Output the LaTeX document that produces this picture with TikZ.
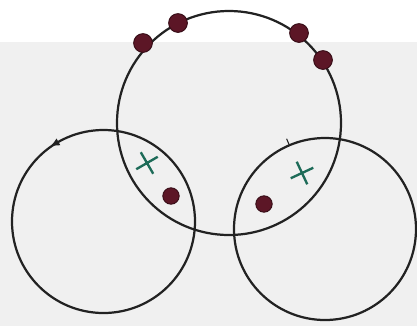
\documentclass[tikz,border=0pt]{standalone}
\usetikzlibrary{arrows.meta,shapes.misc,decorations.markings}
\definecolor{wine}{HTML}{5C1626}
\definecolor{pine}{HTML}{1D6B58}
\definecolor{paper}{HTML}{F0F0F0}
\definecolor{ink}{HTML}{222222}

\begin{document}
\begin{tikzpicture}[x=.03cm,y=-.03cm,ring/.style={draw=ink,line width=1.9pt},bead/.style={circle,fill=wine,draw=wine!60!black,line width=.8pt,inner sep=0pt,minimum size=#1},tally/.style={cross out,draw=pine,line width=2pt,inner sep=0pt,minimum size=13pt,rotate=#1}]
 \useasboundingbox (0,0) rectangle (417,326);
 \fill[paper] (0,42) rectangle (417,326);
 \coordinate (top) at (229,123);
 \coordinate (left) at (103.5,221.5);
 \coordinate (right) at (325,229);
 % three rings
 \draw[ring] (top) circle (112);
 \draw[ring,postaction={decorate},decoration={markings,mark=at position .668 with {\arrow{Latex[reversed,length=3mm,width=2.4mm]}}}] (left) circle (91.5);
 \draw[ring,postaction={decorate},decoration={markings,mark=at position .686 with {\draw[line width=.9pt] (0,0) -- (0,6pt);}}] (right) circle (91);
 % beads on the top ring
 \node[bead=16pt] (b1) at (143,43) {};
 \node[bead=16pt] (b2) at (178,23) {};
 \node[bead=16pt] (b3) at (299,33) {};
 \node[bead=16pt] (b4) at (323,60) {};
 % overlaps
 \node[bead=14pt] (lb) at (171,196) {};
 \node[bead=14pt] (rb) at (264,204) {};
 \node[tally=-15] (lx) at (147,163) {};
 \node[tally=-20] (rx) at (302,173) {};
\end{tikzpicture}
\end{document}
